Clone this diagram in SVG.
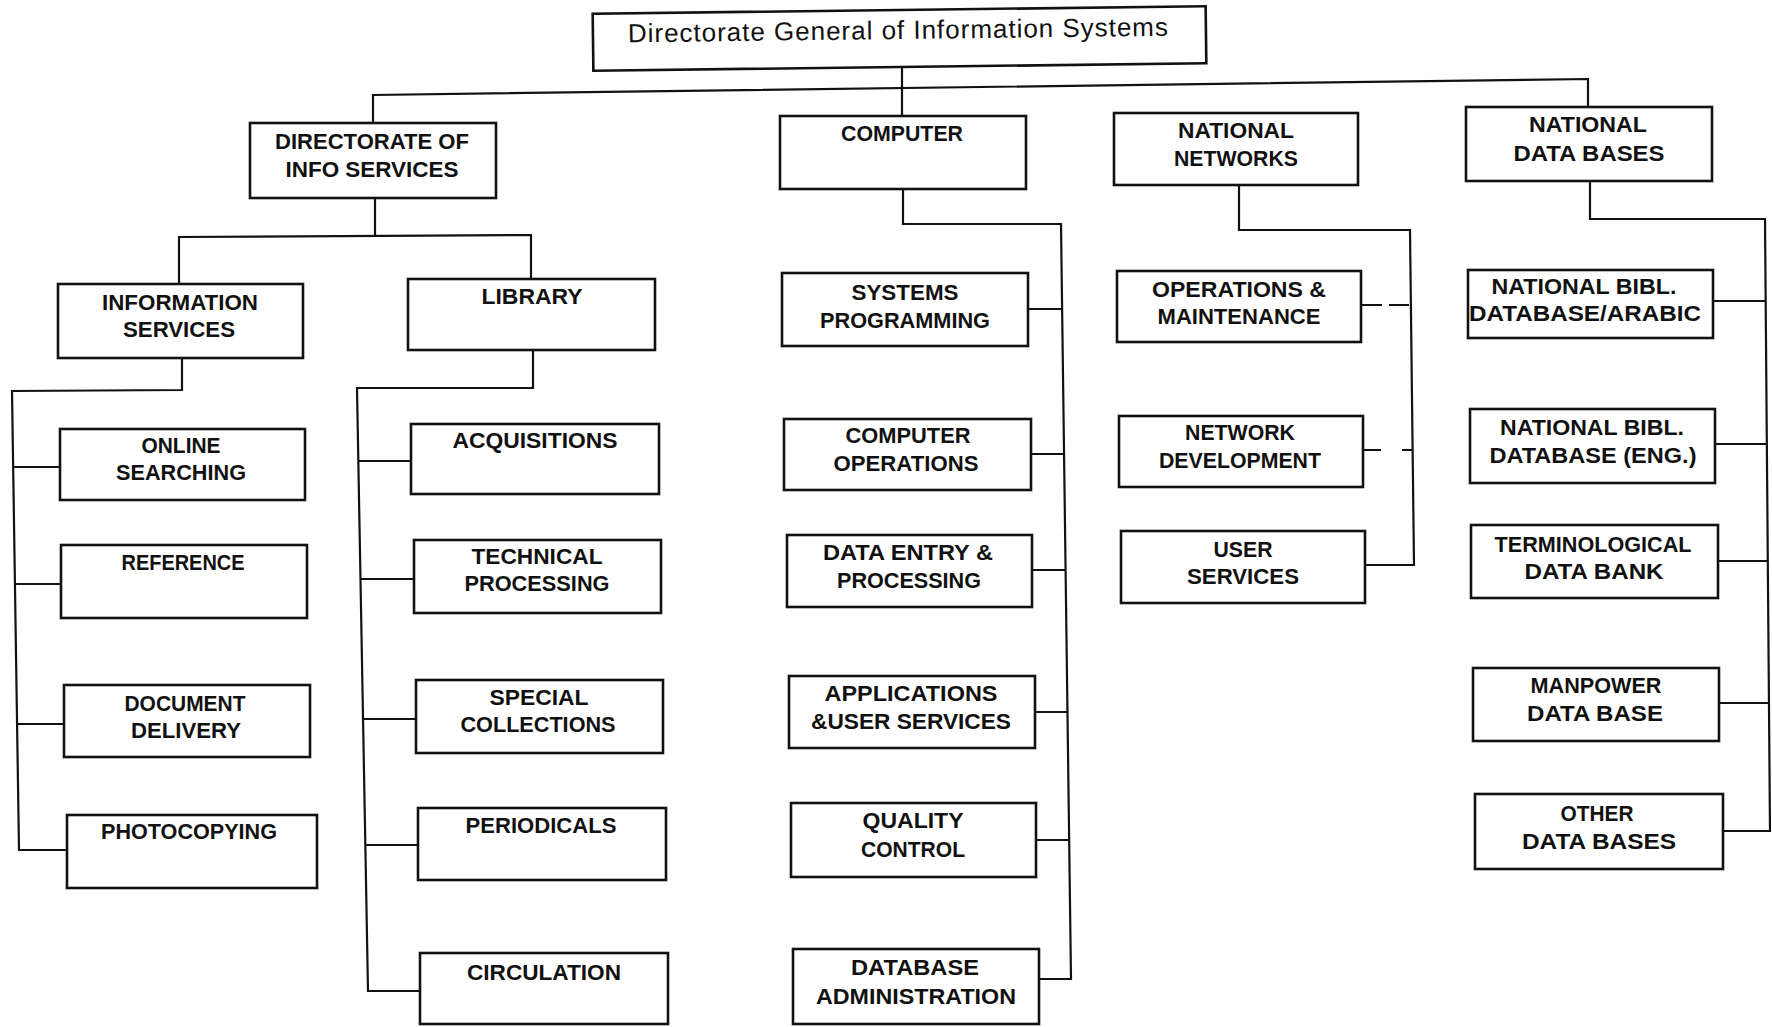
<svg xmlns="http://www.w3.org/2000/svg" width="1772" height="1027" viewBox="0 0 1772 1027">
<style>
.box{fill:#fff;stroke:#111;stroke-width:2.6}
.lab{font-family:"Liberation Sans",Arial,sans-serif;font-weight:bold;font-size:22px;fill:#111;text-anchor:middle}
.title{font-family:"Liberation Sans",Arial,sans-serif;font-size:26px;fill:#111;text-anchor:middle}
.con{fill:none;stroke:#111;stroke-width:2.2}
</style>
<rect width="1772" height="1027" fill="#fff"/>
<g id="connectors">
<path class="con" d="M373,123 V95 L1588,79 V107"/>
<path class="con" d="M902,66 V116"/>
<path class="con" d="M375,198 V236"/>
<path class="con" d="M179,284 V237 L531,235 V279"/>
<path class="con" d="M182,358 V390 L12,391 L19,850 H67"/>
<path class="con" d="M13,467 H60 M15,584 H61 M17,724 H64"/>
<path class="con" d="M533,350 V388 H357 L368,991 H420"/>
<path class="con" d="M358,461 H411 M360,579 H414 M363,719 H416 M365,845 H418"/>
<path class="con" d="M903,189 V224 H1061 L1071,979 H1039"/>
<path class="con" d="M1028,309 H1062 M1031,454 H1064 M1032,570 H1066 M1035,712 H1067 M1036,840 H1069"/>
<path class="con" d="M1239,185 V230 H1410 L1414,565 H1365"/>
<path class="con" d="M1361,305 H1382 M1389,305 H1409 M1363,450 H1381 M1402,450 H1412"/>
<path class="con" d="M1590,181 V219 H1765 L1770,831 H1723"/>
<path class="con" d="M1713,301 H1766 M1715,444 H1767 M1718,561 H1768 M1719,703 H1769"/>
</g>
<g id="n-top" transform="rotate(-0.7 900 38)"><rect class="box" x="593" y="10" width="613" height="57"/><text class="title" x="898" y="39" textLength="540" lengthAdjust="spacing">Directorate General of Information Systems</text></g>
<g id="n-dis"><rect class="box" x="250" y="123" width="246" height="75"/><text class="lab" x="372" y="149" textLength="194" lengthAdjust="spacingAndGlyphs">DIRECTORATE OF</text><text class="lab" x="372" y="177" textLength="173" lengthAdjust="spacingAndGlyphs">INFO SERVICES</text></g>
<g id="n-computer"><rect class="box" x="780" y="116" width="246" height="73"/><text class="lab" x="902" y="141" textLength="122" lengthAdjust="spacingAndGlyphs">COMPUTER</text></g>
<g id="n-networks"><rect class="box" x="1114" y="113" width="244" height="72"/><text class="lab" x="1236" y="138" textLength="116" lengthAdjust="spacingAndGlyphs">NATIONAL</text><text class="lab" x="1236" y="166" textLength="124" lengthAdjust="spacingAndGlyphs">NETWORKS</text></g>
<g id="n-databases"><rect class="box" x="1466" y="107" width="246" height="74"/><text class="lab" x="1588" y="132" textLength="118" lengthAdjust="spacingAndGlyphs">NATIONAL</text><text class="lab" x="1589" y="161" textLength="151" lengthAdjust="spacingAndGlyphs">DATA BASES</text></g>
<g id="n-infoserv"><rect class="box" x="58" y="284" width="245" height="74"/><text class="lab" x="180" y="310" textLength="156" lengthAdjust="spacingAndGlyphs">INFORMATION</text><text class="lab" x="179" y="337" textLength="112" lengthAdjust="spacingAndGlyphs">SERVICES</text></g>
<g id="n-library"><rect class="box" x="408" y="279" width="247" height="71"/><text class="lab" x="532" y="304" textLength="101" lengthAdjust="spacingAndGlyphs">LIBRARY</text></g>
<g id="n-online"><rect class="box" x="60" y="429" width="245" height="71"/><text class="lab" x="181" y="453" textLength="79" lengthAdjust="spacingAndGlyphs">ONLINE</text><text class="lab" x="181" y="480" textLength="130" lengthAdjust="spacingAndGlyphs">SEARCHING</text></g>
<g id="n-reference"><rect class="box" x="61" y="545" width="246" height="73"/><text class="lab" x="183" y="570" textLength="123" lengthAdjust="spacingAndGlyphs">REFERENCE</text></g>
<g id="n-document"><rect class="box" x="64" y="685" width="246" height="72"/><text class="lab" x="185" y="711" textLength="121" lengthAdjust="spacingAndGlyphs">DOCUMENT</text><text class="lab" x="186" y="738" textLength="110" lengthAdjust="spacingAndGlyphs">DELIVERY</text></g>
<g id="n-photo"><rect class="box" x="67" y="815" width="250" height="73"/><text class="lab" x="189" y="839" textLength="176" lengthAdjust="spacingAndGlyphs">PHOTOCOPYING</text></g>
<g id="n-acq"><rect class="box" x="411" y="424" width="248" height="70"/><text class="lab" x="535" y="448" textLength="165" lengthAdjust="spacingAndGlyphs">ACQUISITIONS</text></g>
<g id="n-tech"><rect class="box" x="414" y="540" width="247" height="73"/><text class="lab" x="537" y="564" textLength="131" lengthAdjust="spacingAndGlyphs">TECHNICAL</text><text class="lab" x="537" y="591" textLength="145" lengthAdjust="spacingAndGlyphs">PROCESSING</text></g>
<g id="n-special"><rect class="box" x="416" y="680" width="247" height="73"/><text class="lab" x="539" y="705" textLength="99" lengthAdjust="spacingAndGlyphs">SPECIAL</text><text class="lab" x="538" y="732" textLength="155" lengthAdjust="spacingAndGlyphs">COLLECTIONS</text></g>
<g id="n-periodicals"><rect class="box" x="418" y="808" width="248" height="72"/><text class="lab" x="541" y="833" textLength="151" lengthAdjust="spacingAndGlyphs">PERIODICALS</text></g>
<g id="n-circulation"><rect class="box" x="420" y="953" width="248" height="71"/><text class="lab" x="544" y="980" textLength="154" lengthAdjust="spacingAndGlyphs">CIRCULATION</text></g>
<g id="n-sysprog"><rect class="box" x="782" y="273" width="246" height="73"/><text class="lab" x="905" y="300" textLength="107" lengthAdjust="spacingAndGlyphs">SYSTEMS</text><text class="lab" x="905" y="328" textLength="170" lengthAdjust="spacingAndGlyphs">PROGRAMMING</text></g>
<g id="n-compops"><rect class="box" x="784" y="419" width="247" height="71"/><text class="lab" x="908" y="443" textLength="125" lengthAdjust="spacingAndGlyphs">COMPUTER</text><text class="lab" x="906" y="471" textLength="145" lengthAdjust="spacingAndGlyphs">OPERATIONS</text></g>
<g id="n-dataentry"><rect class="box" x="787" y="535" width="245" height="72"/><text class="lab" x="908" y="560" textLength="170" lengthAdjust="spacingAndGlyphs">DATA ENTRY &amp;</text><text class="lab" x="909" y="588" textLength="144" lengthAdjust="spacingAndGlyphs">PROCESSING</text></g>
<g id="n-apps"><rect class="box" x="789" y="676" width="246" height="72"/><text class="lab" x="911" y="701" textLength="173" lengthAdjust="spacingAndGlyphs">APPLICATIONS</text><text class="lab" x="911" y="729" textLength="200" lengthAdjust="spacingAndGlyphs">&amp;USER SERVICES</text></g>
<g id="n-quality"><rect class="box" x="791" y="803" width="245" height="74"/><text class="lab" x="913" y="828" textLength="101" lengthAdjust="spacingAndGlyphs">QUALITY</text><text class="lab" x="913" y="857" textLength="104" lengthAdjust="spacingAndGlyphs">CONTROL</text></g>
<g id="n-dbadmin"><rect class="box" x="793" y="949" width="246" height="75"/><text class="lab" x="915" y="975" textLength="128" lengthAdjust="spacingAndGlyphs">DATABASE</text><text class="lab" x="916" y="1004" textLength="200" lengthAdjust="spacingAndGlyphs">ADMINISTRATION</text></g>
<g id="n-opsmaint"><rect class="box" x="1117" y="271" width="244" height="71"/><text class="lab" x="1239" y="297" textLength="174" lengthAdjust="spacingAndGlyphs">OPERATIONS &amp;</text><text class="lab" x="1239" y="324" textLength="163" lengthAdjust="spacingAndGlyphs">MAINTENANCE</text></g>
<g id="n-netdev"><rect class="box" x="1119" y="416" width="244" height="71"/><text class="lab" x="1240" y="440" textLength="110" lengthAdjust="spacingAndGlyphs">NETWORK</text><text class="lab" x="1240" y="468" textLength="162" lengthAdjust="spacingAndGlyphs">DEVELOPMENT</text></g>
<g id="n-userserv"><rect class="box" x="1121" y="531" width="244" height="72"/><text class="lab" x="1243" y="557" textLength="59" lengthAdjust="spacingAndGlyphs">USER</text><text class="lab" x="1243" y="584" textLength="112" lengthAdjust="spacingAndGlyphs">SERVICES</text></g>
<g id="n-arabic"><rect class="box" x="1468" y="270" width="245" height="68"/><text class="lab" x="1584" y="294" textLength="185" lengthAdjust="spacingAndGlyphs">NATIONAL BIBL.</text><text class="lab" x="1585" y="321" textLength="232" lengthAdjust="spacingAndGlyphs">DATABASE/ARABIC</text></g>
<g id="n-eng"><rect class="box" x="1470" y="409" width="245" height="74"/><text class="lab" x="1592" y="435" textLength="184" lengthAdjust="spacingAndGlyphs">NATIONAL BIBL.</text><text class="lab" x="1593" y="463" textLength="207" lengthAdjust="spacingAndGlyphs">DATABASE (ENG.)</text></g>
<g id="n-term"><rect class="box" x="1471" y="525" width="247" height="73"/><text class="lab" x="1593" y="552" textLength="197" lengthAdjust="spacingAndGlyphs">TERMINOLOGICAL</text><text class="lab" x="1594" y="579" textLength="139" lengthAdjust="spacingAndGlyphs">DATA BANK</text></g>
<g id="n-manpower"><rect class="box" x="1473" y="668" width="246" height="73"/><text class="lab" x="1596" y="693" textLength="131" lengthAdjust="spacingAndGlyphs">MANPOWER</text><text class="lab" x="1595" y="721" textLength="136" lengthAdjust="spacingAndGlyphs">DATA BASE</text></g>
<g id="n-other"><rect class="box" x="1475" y="794" width="248" height="75"/><text class="lab" x="1597" y="821" textLength="73" lengthAdjust="spacingAndGlyphs">OTHER</text><text class="lab" x="1599" y="849" textLength="154" lengthAdjust="spacingAndGlyphs">DATA BASES</text></g>
</svg>
